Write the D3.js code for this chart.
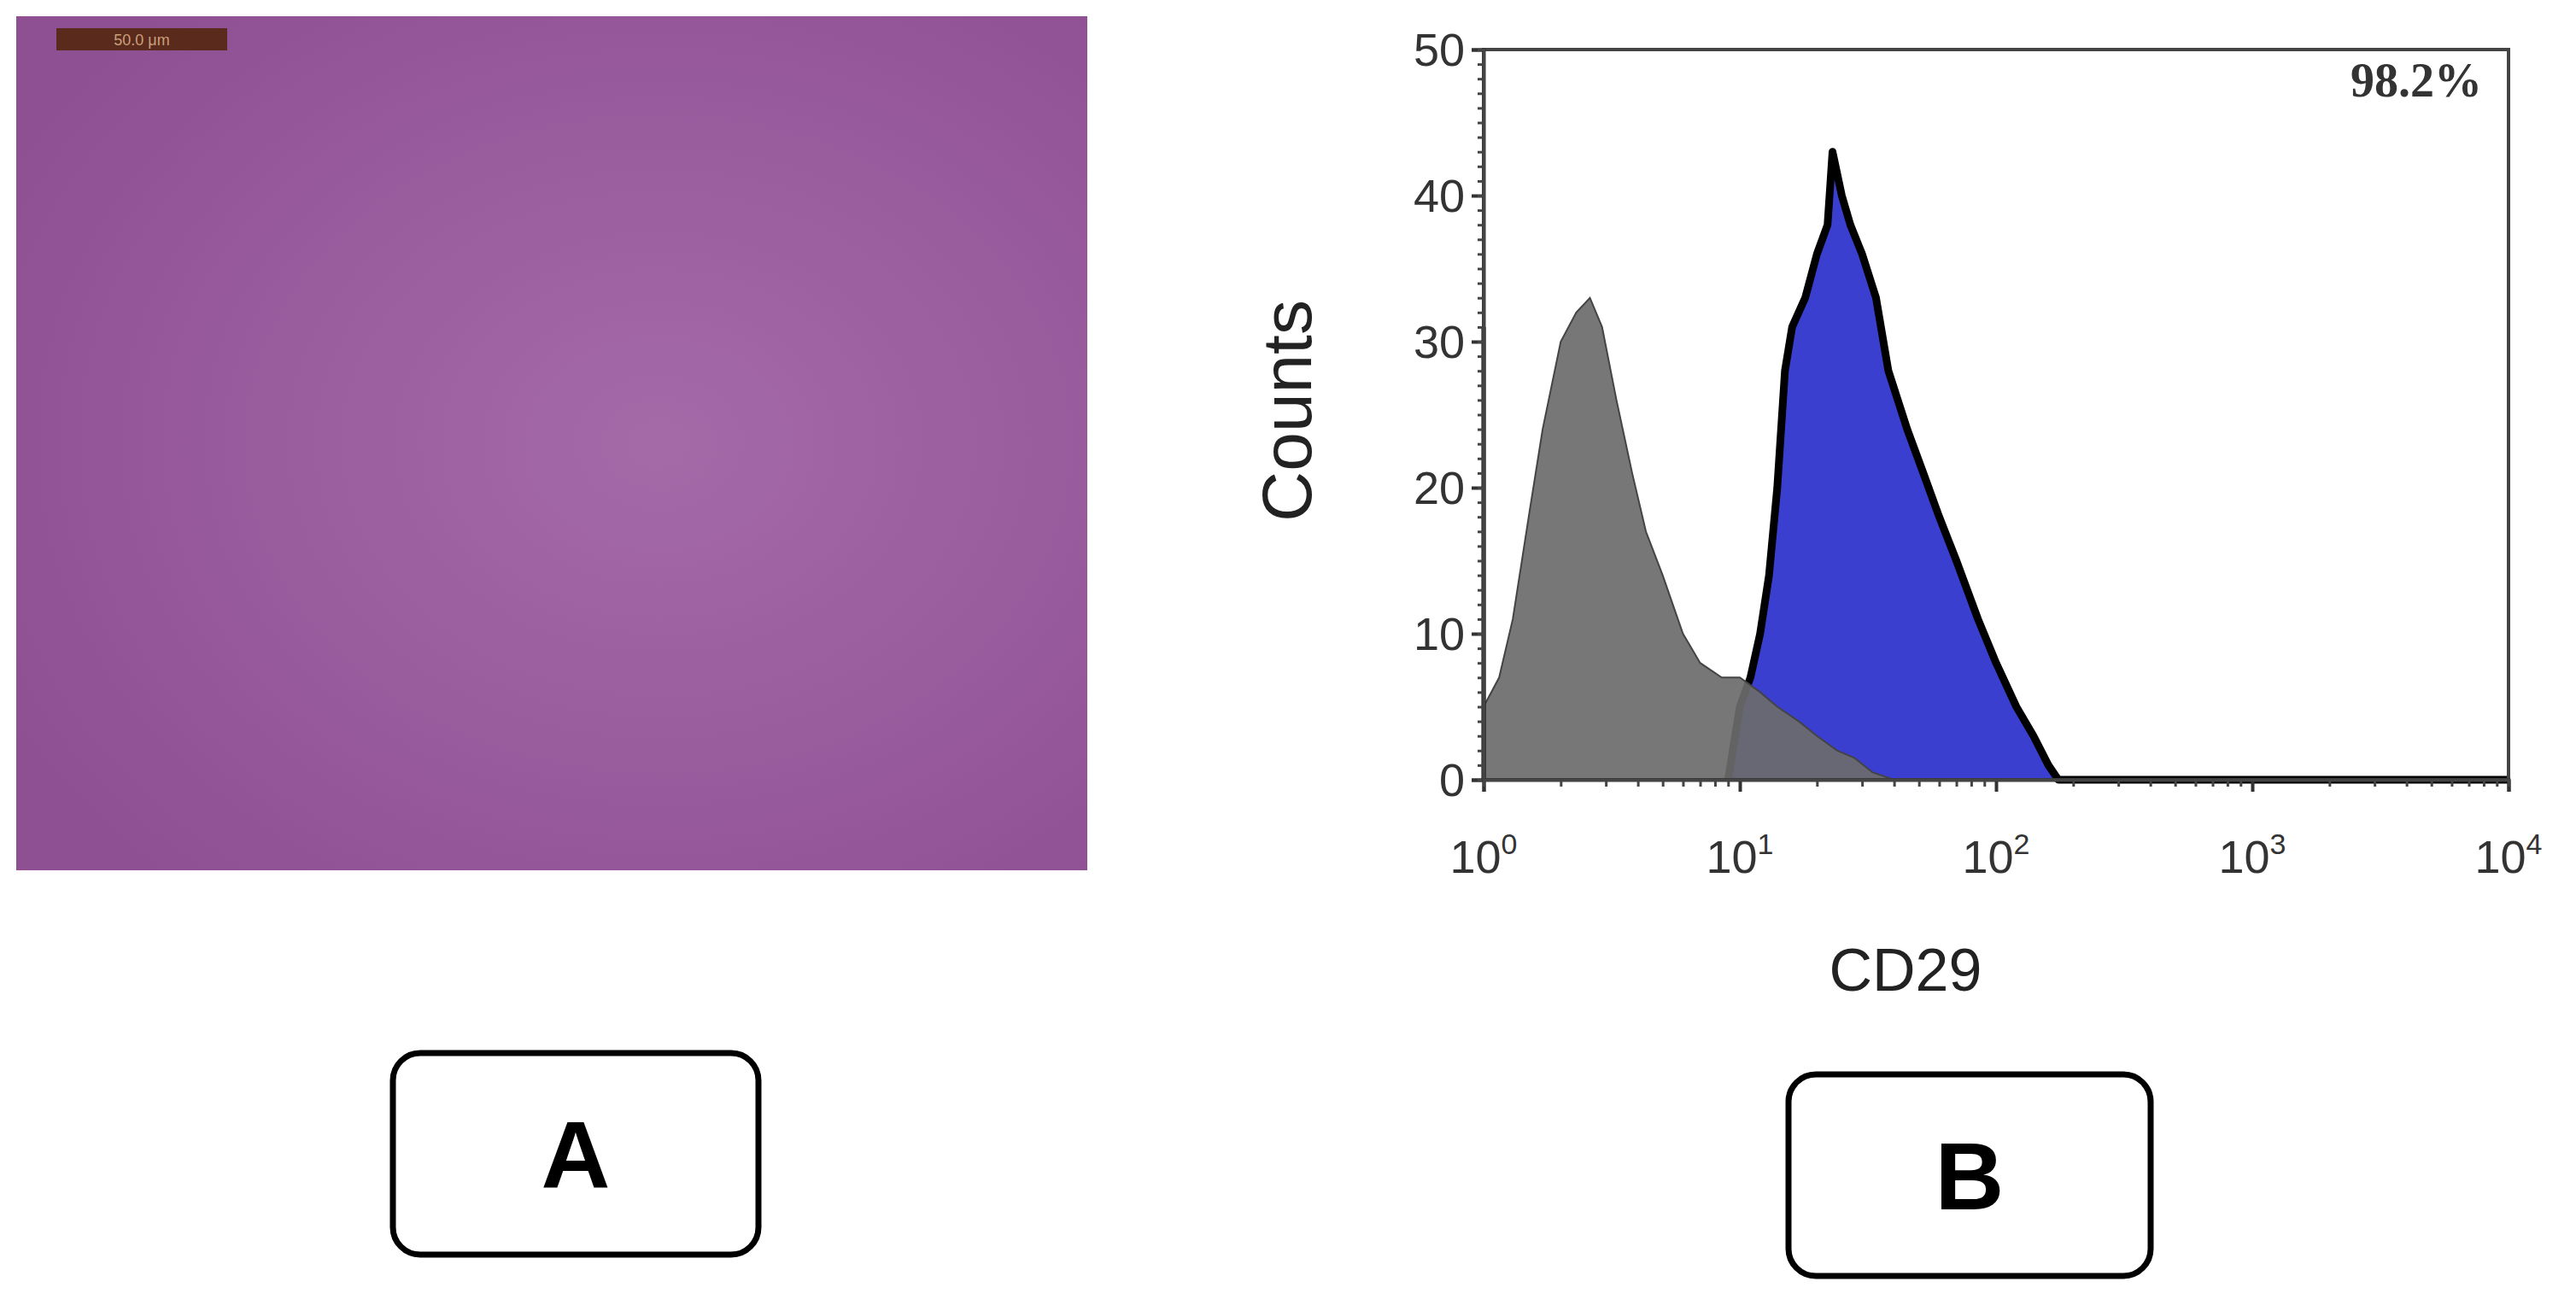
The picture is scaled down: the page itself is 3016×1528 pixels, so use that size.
<!DOCTYPE html>
<html><head><meta charset="utf-8">
<script src="https://cdn.jsdelivr.net/npm/d3@7"></script>
<style>html,body{margin:0;background:#fff}</style></head>
<body><svg id="c" width="3016" height="1528"></svg>
<script>
// data
const yTicks = [0,10,20,30,40,50];
const xTicks = [1,10,100,1000,10000];
const grayX = [1,1.15,1.3,1.5,1.7,2.0,2.3,2.6,2.9,3.3,3.8,4.3,5.0,6.0,7.0,8.5,10,12,14,17,20,24,28,33,40];
const grayY = [5,7,11,18,24,30,32,33,31,26,21,17,14,10,8,7,7,6,5,4,3,2,1.5,0.5,0];
const blueX = [9,10,11,12,13,14,15,16,18,20,22,23,25,27,30,34,38,45,52,60,70,85,100,120,140,160,175,10000];
const blueY = [0,5,7,10,14,20,28,31,33,36,38,43,40,38,36,33,28,24,21,18,15,11,8,5,3,1,0,0];
const pctLabel = "98.2%";
const xTitle = "CD29", yTitle = "Counts";

const svg = d3.select("#c");
// Panel A: micrograph placeholder
const defs = svg.append("defs");
const g = defs.append("radialGradient").attr("id","pg").attr("cx","0.6").attr("cy","0.5").attr("r","0.7");
g.append("stop").attr("offset","0").attr("stop-color","#a46aa8");
g.append("stop").attr("offset","1").attr("stop-color","#8f4f93");
svg.append("rect").attr("x",19).attr("y",19).attr("width",1254).attr("height",1000).attr("fill","url(#pg)");
svg.append("rect").attr("x",66).attr("y",33).attr("width",200).attr("height",26).attr("fill","#5a2a1c");
svg.append("text").attr("x",166).attr("y",53).attr("text-anchor","middle").attr("font-family","Liberation Sans").attr("font-size",18).attr("fill","#c9a07a").text("50.0 μm");

// boxes
function box(x,y,w,h,t){
  svg.append("rect").attr("x",x).attr("y",y).attr("width",w).attr("height",h).attr("rx",32).attr("fill","#fff").attr("stroke","#000").attr("stroke-width",7);
  svg.append("text").attr("x",x+w/2).attr("y",y+h/2+40).attr("text-anchor","middle").attr("font-family","Liberation Sans").attr("font-weight","bold").attr("font-size",112).text(t);
}
box(460,1233,428,236,"A");
box(2094,1258,424,236,"B");

// Panel B
const x = d3.scaleLog().domain([1,10000]).range([1737,2937]);
const y = d3.scaleLinear().domain([0,50]).range([913,58]);
const area = (xs,ys)=>d3.area().x((d,i)=>x(xs[i])).y0(y(0)).y1((d,i)=>y(ys[i]))(xs);
const line = (xs,ys)=>d3.line().x((d,i)=>x(xs[i])).y((d,i)=>y(ys[i]))(xs);
svg.append("path").attr("d",area(blueX,blueY)).attr("fill","#3b3fd0");
svg.append("path").attr("d",line(blueX,blueY)).attr("fill","none").attr("stroke","#000").attr("stroke-width",9).attr("stroke-linejoin","round");
svg.append("path").attr("d",area(grayX,grayY)).attr("fill","#6b6b6b").attr("fill-opacity",0.92);
svg.append("path").attr("d",line(grayX,grayY)).attr("fill","none").attr("stroke","#444").attr("stroke-width",2);
// left spike at edge
svg.append("line").attr("x1",x(1)).attr("x2",x(1)).attr("y1",y(0)).attr("y2",y(31)).attr("stroke","#000").attr("stroke-width",5);
// frame
svg.append("rect").attr("x",x(1)).attr("y",y(50)).attr("width",x(10000)-x(1)).attr("height",y(0)-y(50)).attr("fill","none").attr("stroke","#444").attr("stroke-width",4);

const ff = "Liberation Sans";
const ya = svg.append("g").attr("transform",`translate(${x(1)},0)`).call(d3.axisLeft(y).tickValues(yTicks).tickSize(14).tickPadding(8));
ya.selectAll("text").attr("font-family",ff).attr("font-size",54).attr("fill","#333").attr("dy","0.35em");
ya.selectAll("line,path").attr("stroke","#333").attr("stroke-width",4);
svg.append("g").attr("transform",`translate(${x(1)},0)`).call(d3.axisLeft(y).tickValues(d3.range(0,51,1)).tickSize(7).tickFormat(""))
  .selectAll("line,path").attr("stroke","#444").attr("stroke-width",3);

const xa = svg.append("g").attr("transform",`translate(0,${y(0)})`).call(d3.axisBottom(x).tickValues(xTicks).tickSize(14).tickPadding(20).tickFormat(""));
xa.selectAll("line,path").attr("stroke","#333").attr("stroke-width",4);
const minor = [];
for (let e=0;e<4;e++) for (let k=2;k<10;k++) minor.push(k*Math.pow(10,e));
svg.append("g").attr("transform",`translate(0,${y(0)})`).call(d3.axisBottom(x).tickValues(minor).tickSize(8).tickFormat(""))
  .selectAll("line,path").attr("stroke","#444").attr("stroke-width",3);
xTicks.forEach(v=>{
  const t = svg.append("text").attr("x",x(v)).attr("y",1022).attr("text-anchor","middle").attr("font-family",ff).attr("font-size",54).attr("fill","#333");
  t.append("tspan").text("10");
  t.append("tspan").attr("dy",-22).attr("font-size",34).text(Math.round(Math.log10(v)));
});
svg.append("text").attr("x",2231).attr("y",1160).attr("text-anchor","middle").attr("font-family",ff).attr("font-size",70).attr("fill","#222").text(xTitle);
svg.append("text").attr("transform","translate(1535,481) rotate(-90)").attr("text-anchor","middle").attr("font-family",ff).attr("font-size",82).attr("fill","#222").text(yTitle);
svg.append("text").attr("x",2906).attr("y",113).attr("text-anchor","end").attr("font-family","Liberation Serif").attr("font-weight","bold").attr("font-size",56).attr("fill","#333").text(pctLabel);
</script></body></html>
